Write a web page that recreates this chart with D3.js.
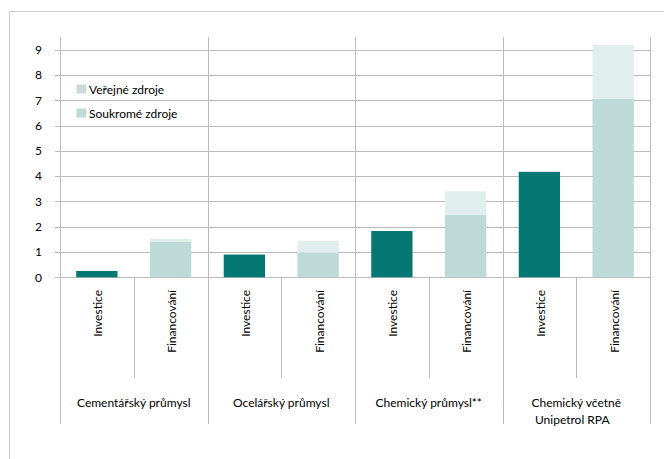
<!DOCTYPE html>
<html>
<head>
<meta charset="utf-8">
<script src="https://cdn.jsdelivr.net/npm/d3@7"></script>
<style>
  html, body { margin: 0; padding: 0; background: #fff; }
  svg { display: block; }
  text { font-family: Lato, "Open Sans", sans-serif; fill: #000; }
</style>
</head>
<body>
<svg id="chart" width="664" height="459"></svg>
<script>
// Sector groups and the two columns drawn inside each group
const groups = ["Cementářský průmysl", "Ocelářský průmysl", "Chemický průmysl**", "Chemický včetně\nUnipetrol RPA"];
const kinds = ["Investice", "Financování"];

// Values (mld. Kč)
const investice = [0.25, 0.90, 1.83, 4.17];
const soukrome  = [1.40, 0.97, 2.47, 7.06];
const verejne   = [0.12, 0.47, 0.93, 2.12];

const yTicks = [0, 1, 2, 3, 4, 5, 6, 7, 8, 9];
const legendItems = ["Veřejné zdroje", "Soukromé zdroje"];

const C_INV = "#067873";
const C_SOUK = "#bdd9d8";
const C_VER = "#e1eeee";
const C_VER_KEY = "#cdd9da";
const C_GRID = "#bcbcbc";
const FS = 12;

const svg = d3.select("#chart");

// outer frame (only left and top edges are inside the page)
svg.append("path")
  .attr("d", "M9.5,459 V11.5 H664")
  .attr("fill", "none").attr("stroke", "#cfcfcf");

const plotLeft = 60, plotRight = 650, plotTop = 37, base = 277.3;

const y = d3.scaleLinear().domain([0, 9.5]).range([base, plotTop]);

// one band per column (8 columns)
const cols = [];
groups.forEach((g, gi) => kinds.forEach((k, ki) => cols.push({ g, gi, k, ki, id: gi + "-" + ki })));
const x = d3.scaleBand().domain(cols.map(d => d.id)).range([plotLeft, plotRight]).paddingInner(0.44).paddingOuter(0.22);
const xCol = d3.scaleBand().domain(cols.map(d => d.id)).range([plotLeft, plotRight]).padding(0);
const xGroup = d3.scaleBand().domain(groups).range([plotLeft, plotRight]).padding(0);

// horizontal gridlines with short ticks left of the axis
const gy = svg.append("g").attr("transform", `translate(${plotRight},0)`);
gy.call(d3.axisLeft(y).tickValues(yTicks).tickSize(plotRight - plotLeft + 5).tickFormat(d3.format("d")).tickPadding(13));
gy.select(".domain").remove();
gy.selectAll(".tick line").attr("stroke", C_GRID).attr("shape-rendering", "crispEdges");
gy.selectAll(".tick text").attr("font-size", FS).attr("font-family", "Lato, sans-serif").attr("fill", "#000");

// vertical group boundaries (through plot and down through the label area)
const groupEdges = groups.map(g => xGroup(g)).concat([plotRight]);
svg.append("g").selectAll("line").data(groupEdges).join("line")
  .attr("x1", d => Math.round(d) + 0.5).attr("x2", d => Math.round(d) + 0.5)
  .attr("y1", plotTop).attr("y2", 424)
  .attr("stroke", C_GRID);

// inner separators between the two columns of a group
const innerEdges = groups.map(g => xGroup(g) + xGroup.bandwidth() / 2);
svg.append("g").selectAll("line").data(innerEdges).join("line")
  .attr("x1", d => Math.round(d) + 0.5).attr("x2", d => Math.round(d) + 0.5)
  .attr("y1", base).attr("y2", 378)
  .attr("stroke", C_GRID);

// bars
const bars = svg.append("g");
cols.forEach(c => {
  if (c.ki === 0) {
    bars.append("rect")
      .attr("x", x(c.id)).attr("width", x.bandwidth())
      .attr("y", y(investice[c.gi])).attr("height", y(0) - y(investice[c.gi]))
      .attr("fill", C_INV);
  } else {
    const s = soukrome[c.gi], v = verejne[c.gi];
    bars.append("rect")
      .attr("x", x(c.id)).attr("width", x.bandwidth())
      .attr("y", y(s)).attr("height", y(0) - y(s))
      .attr("fill", C_SOUK);
    bars.append("rect")
      .attr("x", x(c.id)).attr("width", x.bandwidth())
      .attr("y", y(s + v)).attr("height", y(s) - y(s + v))
      .attr("fill", C_VER);
  }
});

// column labels, rotated
svg.append("g").selectAll("text").data(cols).join("text")
  .attr("transform", d => `translate(${xCol(d.id) + xCol.bandwidth() / 2 + 1},290) rotate(-90)`)
  .attr("text-anchor", "end").attr("dominant-baseline", "central")
  .attr("font-size", FS)
  .text(d => d.k);

// group labels
const gl = svg.append("g").selectAll("text").data(groups).join("text")
  .attr("x", d => xGroup(d) + xGroup.bandwidth() / 2)
  .attr("y", 407)
  .attr("text-anchor", "middle").attr("font-size", FS);
gl.each(function (d) {
  const lines = d.split("\n");
  const t = d3.select(this);
  lines.forEach((ln, i) => {
    t.append("tspan").attr("x", xGroup(d) + xGroup.bandwidth() / 2 + (i ? -4 : 0)).attr("dy", i ? 16.5 : 0).text(ln);
  });
});

// legend
const legend = svg.append("g");
legendItems.forEach((name, i) => {
  legend.append("rect").attr("x", 76.5).attr("y", 84.5 + i * 24).attr("width", 9.5).attr("height", 9)
    .attr("fill", i === 0 ? C_VER_KEY : C_SOUK);
  legend.append("text").attr("x", 89).attr("y", 89 + i * 24).attr("dominant-baseline", "central")
    .attr("font-size", FS).text(name);
});
</script>
</body>
</html>
